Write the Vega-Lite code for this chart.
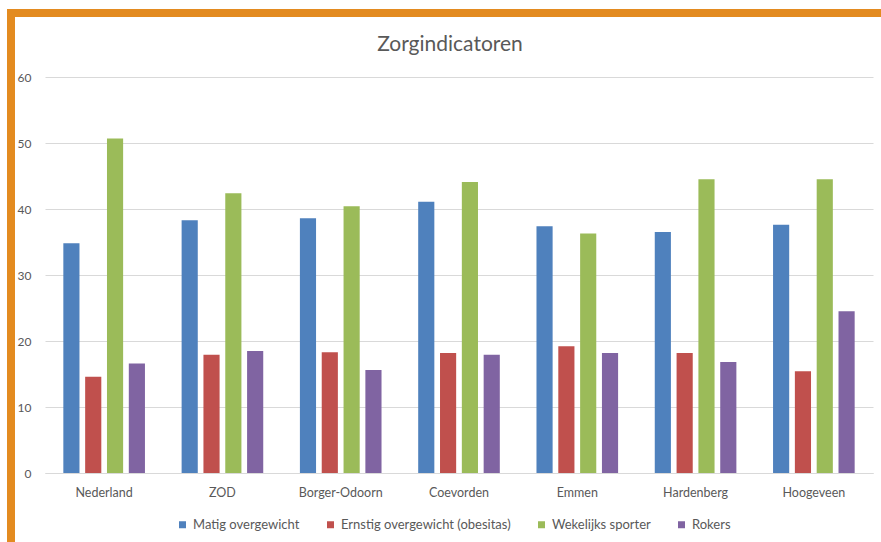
{
  "$schema": "https://vega.github.io/schema/vega-lite/v6.json",
  "width": 828,
  "height": 396,
  "autosize": {"type": "none"},
  "padding": {"left": 45, "top": 77, "right": 8, "bottom": 69},
  "background": "white",
  "config": {"view": {"stroke": null}, "font": "Lato"},
  "title": {"text": "Zorgindicatoren", "fontSize": 21, "fontWeight": "normal", "color": "#595959", "offset": -50, "dx": -9, "font": "Lato"},
  "layer": [
    {
      "data": {"values": [
        {"Regio": "Nederland", "Indicator": "Matig overgewicht", "Waarde": 34.8},
        {"Regio": "Nederland", "Indicator": "Ernstig overgewicht (obesitas)", "Waarde": 14.6},
        {"Regio": "Nederland", "Indicator": "Wekelijks sporter", "Waarde": 50.7},
        {"Regio": "Nederland", "Indicator": "Rokers", "Waarde": 16.6},
        {"Regio": "ZOD", "Indicator": "Matig overgewicht", "Waarde": 38.3},
        {"Regio": "ZOD", "Indicator": "Ernstig overgewicht (obesitas)", "Waarde": 17.9},
        {"Regio": "ZOD", "Indicator": "Wekelijks sporter", "Waarde": 42.4},
        {"Regio": "ZOD", "Indicator": "Rokers", "Waarde": 18.5},
        {"Regio": "Borger-Odoorn", "Indicator": "Matig overgewicht", "Waarde": 38.6},
        {"Regio": "Borger-Odoorn", "Indicator": "Ernstig overgewicht (obesitas)", "Waarde": 18.3},
        {"Regio": "Borger-Odoorn", "Indicator": "Wekelijks sporter", "Waarde": 40.4},
        {"Regio": "Borger-Odoorn", "Indicator": "Rokers", "Waarde": 15.6},
        {"Regio": "Coevorden", "Indicator": "Matig overgewicht", "Waarde": 41.1},
        {"Regio": "Coevorden", "Indicator": "Ernstig overgewicht (obesitas)", "Waarde": 18.2},
        {"Regio": "Coevorden", "Indicator": "Wekelijks sporter", "Waarde": 44.1},
        {"Regio": "Coevorden", "Indicator": "Rokers", "Waarde": 17.9},
        {"Regio": "Emmen", "Indicator": "Matig overgewicht", "Waarde": 37.4},
        {"Regio": "Emmen", "Indicator": "Ernstig overgewicht (obesitas)", "Waarde": 19.2},
        {"Regio": "Emmen", "Indicator": "Wekelijks sporter", "Waarde": 36.3},
        {"Regio": "Emmen", "Indicator": "Rokers", "Waarde": 18.2},
        {"Regio": "Hardenberg", "Indicator": "Matig overgewicht", "Waarde": 36.5},
        {"Regio": "Hardenberg", "Indicator": "Ernstig overgewicht (obesitas)", "Waarde": 18.2},
        {"Regio": "Hardenberg", "Indicator": "Wekelijks sporter", "Waarde": 44.5},
        {"Regio": "Hardenberg", "Indicator": "Rokers", "Waarde": 16.8},
        {"Regio": "Hoogeveen", "Indicator": "Matig overgewicht", "Waarde": 37.6},
        {"Regio": "Hoogeveen", "Indicator": "Ernstig overgewicht (obesitas)", "Waarde": 15.4},
        {"Regio": "Hoogeveen", "Indicator": "Wekelijks sporter", "Waarde": 44.5},
        {"Regio": "Hoogeveen", "Indicator": "Rokers", "Waarde": 24.5}
      ]},
      "mark": {"type": "bar"},
      "encoding": {
        "x": {
          "field": "Regio", "type": "nominal", "sort": null,
          "scale": {"paddingInner": 0.31, "paddingOuter": 0.155},
          "axis": {"title": null, "labelAngle": 0, "labelFontSize": 12.5, "labelColor": "#595959", "labelPadding": 13, "ticks": false, "domainColor": "#D9D9D9", "grid": false}
        },
        "xOffset": {
          "field": "Indicator", "type": "nominal",
          "sort": ["Matig overgewicht", "Ernstig overgewicht (obesitas)", "Wekelijks sporter", "Rokers"],
          "scale": {"paddingInner": 0.26, "paddingOuter": 0}
        },
        "y": {
          "field": "Waarde", "type": "quantitative",
          "scale": {"domain": [0, 60]},
          "axis": {"title": null, "values": [0, 10, 20, 30, 40, 50, 60], "domain": false, "ticks": false, "gridColor": "#D9D9D9", "labelColor": "#595959", "labelFontSize": 12, "labelPadding": 14}
        },
        "color": {
          "field": "Indicator", "type": "nominal",
          "scale": {"domain": ["Matig overgewicht", "Ernstig overgewicht (obesitas)", "Wekelijks sporter", "Rokers"], "range": ["#4F81BD", "#C0504D", "#9BBB59", "#8064A2"]},
          "legend": {"orient": "none", "legendX": 131, "legendY": 441, "direction": "horizontal", "title": null, "symbolType": "square", "symbolSize": 49, "symbolStrokeWidth": 0, "symbolOffset": 0, "labelOffset": 4, "labelFontSize": 13, "labelLimit": 400, "labelColor": "#595959", "columnPadding": 24}
        }
      }
    },
    {
      "data": {"values": [{}]},
      "mark": {"type": "rule", "color": "#E38B20", "strokeWidth": 8},
      "encoding": {"x": {"value": -38}, "x2": {"value": 836}, "y": {"value": -64}}
    },
    {
      "data": {"values": [{}]},
      "mark": {"type": "rule", "color": "#E38B20", "strokeWidth": 8},
      "encoding": {"x": {"value": -34}, "y": {"value": -68}, "y2": {"value": 470}}
    }
  ]
}
